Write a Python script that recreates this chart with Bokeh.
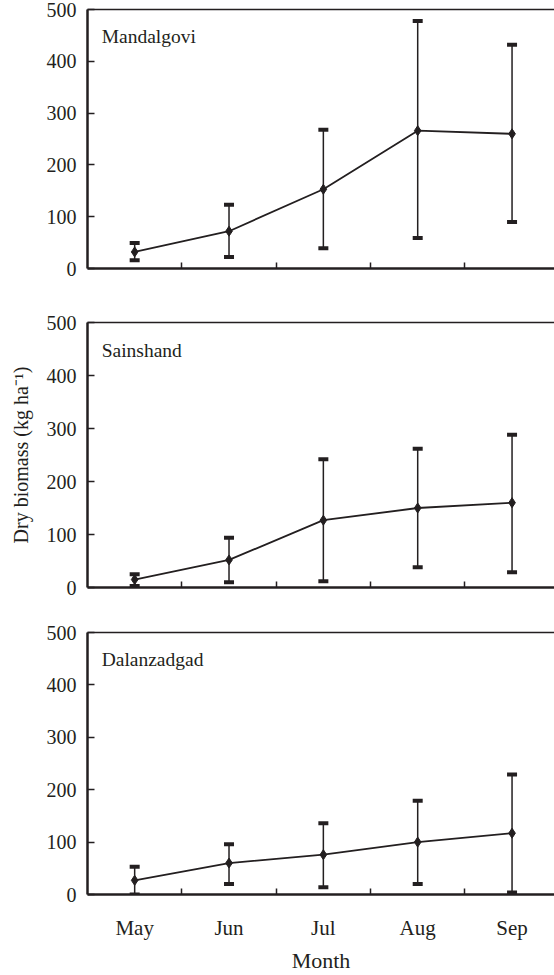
import numpy as np
from bokeh.plotting import figure
from bokeh.models import ColumnDataSource, Whisker, TeeHead, LinearAxis, FixedTicker, Label, Range1d
from bokeh.layouts import column
from bokeh.embed import file_html
from bokeh.resources import INLINE

months = ["May", "Jun", "Jul", "Aug", "Sep"]
sites = ["Mandalgovi", "Sainshand", "Dalanzadgad"]

mandalgovi_mean = [32, 72, 153, 266, 260]
mandalgovi_upper = [49, 123, 268, 478, 432]
mandalgovi_lower = [16, 22, 39, 59, 90]

sainshand_mean = [15, 52, 127, 150, 160]
sainshand_upper = [25, 94, 242, 262, 288]
sainshand_lower = [3, 10, 12, 38, 29]

dalanzadgad_mean = [27, 60, 76, 100, 117]
dalanzadgad_upper = [53, 96, 136, 179, 229]
dalanzadgad_lower = [0, 20, 14, 20, 4]

y_ticks = [0, 100, 200, 300, 400, 500]
y_label = "Dry biomass (kg ha\u207b\u00b9)"
x_label = "Month"

FONT = "Liberation Serif"
INK = "#231f20"

xs = [i + 0.5 for i in range(len(months))]
bounds = [float(i) for i in range(1, len(months))]


def make_panel(name, mean, upper, lower, height, top, bottom, last, ylab):
    p = figure(width=554, height=height, x_range=Range1d(0, 4.95), y_range=Range1d(0, 500),
               output_backend="svg", toolbar_location=None, min_border=0,
               min_border_left=87, min_border_right=0, min_border_top=top, min_border_bottom=bottom)
    p.outline_line_color = None
    p.xgrid.visible = False
    p.ygrid.visible = False
    p.background_fill_color = "white"
    p.border_fill_color = "white"

    src = ColumnDataSource(dict(x=xs, mean=mean, upper=upper, lower=lower))
    w = Whisker(source=src, base="x", upper="upper", lower="lower",
                line_color=INK, line_width=1.5,
                upper_head=TeeHead(size=10, line_width=4, line_color=INK),
                lower_head=TeeHead(size=10, line_width=4, line_color=INK))
    p.add_layout(w)
    p.line("x", "mean", source=src, line_color=INK, line_width=1.8)
    p.scatter("x", "mean", source=src, marker="diamond", size=10, color=INK)

    # y axis
    ya = p.yaxis[0]
    ya.ticker = FixedTicker(ticks=y_ticks)
    ya.axis_line_width = 2.5
    ya.axis_line_color = INK
    ya.major_tick_in = 7
    ya.major_tick_out = 0
    ya.major_tick_line_width = 1.5
    ya.major_tick_line_color = INK
    ya.minor_tick_line_color = None
    ya.major_label_standoff = 11
    ya.major_label_text_font = FONT
    ya.major_label_text_font_size = "20px"
    ya.major_label_text_color = INK
    if ylab:
        ya.axis_label = ylab
        ya.axis_label_text_font = FONT
        ya.axis_label_text_font_style = "normal"
        ya.axis_label_text_font_size = "20px"
        ya.axis_label_text_color = INK
        ya.axis_label_standoff = 12

    # x axis
    xa = p.xaxis[0]
    xa.axis_line_width = 2.5
    xa.axis_line_color = INK
    xa.major_tick_line_color = None
    xa.minor_tick_in = 6
    xa.minor_tick_out = 0
    xa.minor_tick_line_width = 1.5
    xa.minor_tick_line_color = INK
    if last:
        xa.ticker = FixedTicker(ticks=xs, minor_ticks=bounds)
        xa.major_label_overrides = {x: m for x, m in zip(xs, months)}
        xa.major_label_standoff = 15
        xa.major_label_text_font = FONT
        xa.major_label_text_font_size = "21px"
        xa.major_label_text_color = INK
        xa.axis_label = x_label
        xa.axis_label_text_font = FONT
        xa.axis_label_text_font_style = "normal"
        xa.axis_label_text_font_size = "22px"
        xa.axis_label_text_color = INK
        xa.axis_label_standoff = 5
    else:
        xa.ticker = FixedTicker(ticks=[], minor_ticks=bounds)
        xa.major_label_standoff = 0

    # top border line
    ta = LinearAxis(ticker=FixedTicker(ticks=[]), axis_line_width=1.5, axis_line_color=INK,
                    major_tick_line_color=None, minor_tick_line_color=None,
                    major_label_standoff=0)
    p.add_layout(ta, "above")

    p.add_layout(Label(x=0.15, y=448, text=name, text_font=FONT, text_font_size="19.5px",
                       text_color=INK, text_baseline="alphabetic", text_align="left"))
    return p


p1 = make_panel(sites[0], mandalgovi_mean, mandalgovi_upper, mandalgovi_lower, 295, 9, 27, False, None)
p2 = make_panel(sites[1], sainshand_mean, sainshand_upper, sainshand_lower, 312, 27, 20, False, y_label)
p3 = make_panel(sites[2], dalanzadgad_mean, dalanzadgad_upper, dalanzadgad_lower, 368, 25, 80, True, None)

layout = column(p1, p2, p3, spacing=0)
open("out.html", "w").write(file_html(layout, INLINE))
